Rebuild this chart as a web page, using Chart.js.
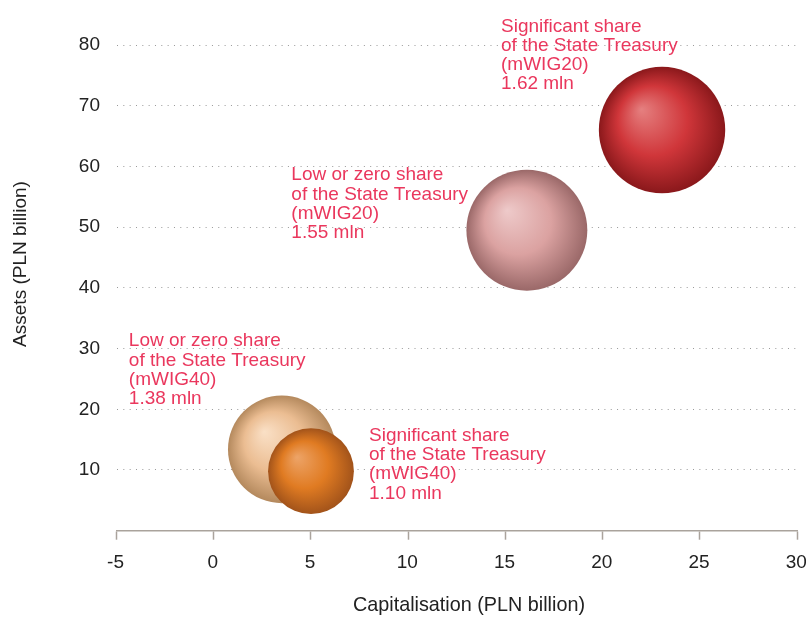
<!DOCTYPE html>
<html>
<head>
<meta charset="utf-8">
<script src="https://cdn.jsdelivr.net/npm/chart.js@4/dist/chart.umd.min.js"></script>
<style>
  html, body { margin: 0; padding: 0; background: #ffffff; }
  #wrap { width: 806px; height: 617px; }
</style>
</head>
<body>
<div id="wrap"><canvas id="chart" width="806" height="617"></canvas></div>
<script>
// Company groups: State Treasury share and index membership
const shareGroups = ['Significant share', 'Low or zero share', 'Low or zero share', 'Significant share'];
const indexNames = ['mWIG20', 'mWIG20', 'mWIG40', 'mWIG40'];
// Capitalisation and assets, PLN billion
const capitalisation = [23.05, 16.1, 3.5, 5.0];
const assets = [66.0, 49.5, 13.4, 9.8];
// Bubble size: value in mln
const sizeMln = [1.62, 1.55, 1.38, 1.10];
// Axis ticks
const xTicks = [-5, 0, 5, 10, 15, 20, 25, 30];
const yTicks = [10, 20, 30, 40, 50, 60, 70, 80];

const X_TITLE = 'Capitalisation (PLN billion)';
const Y_TITLE = 'Assets (PLN billion)';

const FONT = '"Liberation Sans", Arial, Helvetica, sans-serif';
const TEXT_COLOR = '#222222';
const LABEL_COLOR = '#ea375d';
const AXIS_COLOR = '#aaa39c';
const PX_PER_MLN = 39;

// Sphere shading per bubble: highlight, body, rim
const sphereColors = [
  ['#e58080', '#d0363a', '#8a181b'],
  ['#eecaca', '#dba2a1', '#9a6868'],
  ['#fae0c6', '#ebbd92', '#b4895d'],
  ['#eda468', '#e07b22', '#a2531a']
];

// Where each label block sits relative to its bubble centre (left edge, first baseline)
const labelOffsets = [
  [-161, -98.5],
  [-235.5, -50],
  [-153, -103],
  [58, -30.5]
];
const LINE_STEP = 19.3;

function sphereFill(ctx) {
  const chart = ctx.chart;
  const i = ctx.dataIndex;
  const c = sphereColors[i];
  if (!chart.chartArea || !chart.scales.x) return c[1];
  const cx = chart.scales.x.getPixelForValue(capitalisation[i]);
  const cy = chart.scales.y.getPixelForValue(assets[i]);
  const r = sizeMln[i] * PX_PER_MLN;
  const g = chart.ctx.createRadialGradient(cx - 0.33 * r, cy - 0.33 * r, 0, cx, cy, r);
  g.addColorStop(0, c[0]);
  g.addColorStop(0.55, c[1]);
  g.addColorStop(1, c[2]);
  return g;
}

const bubbleLabels = {
  id: 'bubbleLabels',
  afterDatasetsDraw(chart) {
    const meta = chart.getDatasetMeta(0);
    const ctx = chart.ctx;
    ctx.save();
    ctx.font = '19px ' + FONT;
    ctx.fillStyle = LABEL_COLOR;
    ctx.textAlign = 'left';
    ctx.textBaseline = 'alphabetic';
    meta.data.forEach((el, i) => {
      const lines = [
        shareGroups[i],
        'of the State Treasury',
        '(' + indexNames[i] + ')',
        sizeMln[i].toFixed(2) + ' mln'
      ];
      const x0 = el.x + labelOffsets[i][0];
      const y0 = el.y + labelOffsets[i][1];
      lines.forEach((t, k) => ctx.fillText(t, x0, y0 + k * LINE_STEP));
    });
    ctx.restore();
  },
  afterDraw(chart) {
    // axis titles
    const ctx = chart.ctx;
    ctx.save();
    ctx.fillStyle = TEXT_COLOR;
    ctx.textAlign = 'center';
    ctx.textBaseline = 'middle';
    ctx.font = '19.8px ' + FONT;
    ctx.fillText(X_TITLE, 469, 606);
    ctx.font = '19px ' + FONT;
    ctx.translate(21, 264);
    ctx.rotate(-Math.PI / 2);
    ctx.fillText(Y_TITLE, 0, 0);
    ctx.restore();
  }
};

new Chart(document.getElementById('chart'), {
  type: 'bubble',
  data: {
    datasets: [{
      data: capitalisation.map((x, i) => ({ x: x, y: assets[i] })),
      backgroundColor: sphereFill,
      borderWidth: 0,
      radius: ctx => sizeMln[ctx.dataIndex] * PX_PER_MLN,
      hoverRadius: 0,
      clip: false
    }]
  },
  options: {
    responsive: false,
    devicePixelRatio: 1,
    animation: false,
    events: [],
    layout: { autoPadding: false, padding: { top: 14.7, right: 0, bottom: 0, left: 0 } },
    plugins: {
      legend: { display: false },
      tooltip: { enabled: false }
    },
    scales: {
      x: {
        type: 'linear',
        min: -5,
        max: 30,
        afterBuildTicks: s => { s.ticks = xTicks.map(v => ({ value: v })); },
        afterFit: s => { s.height = 86.3; s.paddingRight = 8.8; s.paddingLeft = 0; },
        ticks: {
          color: TEXT_COLOR,
          font: { family: FONT, size: 19 },
          padding: 11.6,
          maxRotation: 0,
          labelOffset: -1
        },
        grid: {
          drawOnChartArea: false,
          drawTicks: true,
          tickLength: 9,
          tickColor: AXIS_COLOR,
          tickWidth: 1.5
        },
        border: { display: true, color: AXIS_COLOR, width: 1.5 },
        title: { display: false }
      },
      y: {
        type: 'linear',
        min: 0,
        max: 85,
        afterBuildTicks: s => { s.ticks = yTicks.map(v => ({ value: v })); },
        afterFit: s => { s.width = 116.5; s.paddingTop = 0; s.paddingBottom = 0; },
        ticks: {
          color: TEXT_COLOR,
          font: { family: FONT, size: 19 },
          padding: 16.5
        },
        grid: {
          drawTicks: false,
          color: '#999999',
          lineWidth: 1
        },
        border: { display: false, dash: [1, 5.33] }
      }
    }
  },
  plugins: [bubbleLabels]
});
</script>
</body>
</html>
